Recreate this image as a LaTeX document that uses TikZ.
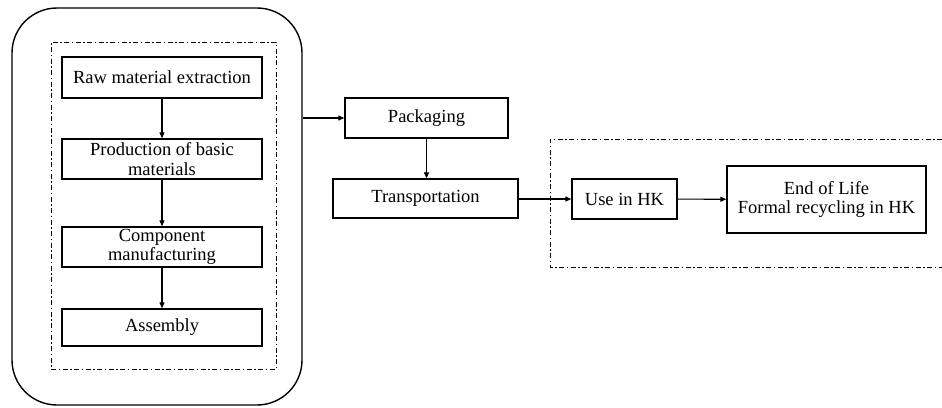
\documentclass[tikz,border=0pt]{standalone}
\usepackage{fontspec}
\setmainfont{Liberation Serif}
\usetikzlibrary{arrows.meta}
\begin{document}
\begin{tikzpicture}[x=1pt,y=-1pt,
  stagebox/.style={draw, line width=1.3pt, inner sep=0pt, align=center,
    font=\fontsize{18.5}{19.5}\selectfont},
  dashdot/.style={line width=0.9pt, dash pattern=on 5pt off 2.5pt on 1.5pt off 2.5pt},
  flow/.style={line width=1.1pt, -{Triangle[length=6pt,width=5pt]}}]
\useasboundingbox (0,0) rectangle (942,407);

% manufacturing stage: rounded frame and dash-dot group
\node[draw, line width=1.4pt, rounded corners=45pt, minimum width=290pt,
  minimum height=397pt, inner sep=0pt] (outer) at (157,206.5) {};
\node[draw, dashdot, minimum width=225pt, minimum height=327pt, inner sep=0pt]
  (inner) at (163.5,205.5) {};

\node[stagebox, minimum width=200pt, minimum height=41pt] (raw) at (162,77.5)
  {Raw material extraction};
\node[stagebox, minimum width=200pt, minimum height=40pt] (prod) at (162,159)
  {Production of basic\\materials};
\node[stagebox, minimum width=200pt, minimum height=40pt] (comp) at (162,247)
  {Component\\manufacturing};
\node[stagebox, minimum width=200pt, minimum height=37pt] (asm) at (162,327.5)
  {Assembly};

% distribution
\node[stagebox, minimum width=163pt, minimum height=40pt] (pack) at (426.5,118)
  {Packaging};
\node[stagebox, minimum width=185pt, minimum height=39pt] (trans) at (425.5,198.5)
  {Transportation};

% use phase and end of life, open dash-dot group
\draw[dashdot] (942,139) -- (550,139) -- (550,267) -- (942,267);
\node[stagebox, minimum width=105pt, minimum height=40pt] (use) at (624.5,199)
  {Use in HK};
\node[stagebox, minimum width=199pt, minimum height=67pt] (eol) at (826.5,199.5)
  {End of Life\\Formal recycling in HK};

% connectors
\draw[flow] (raw) -- (prod);
\draw[flow] (prod) -- (comp);
\draw[flow] (comp) -- (asm);
\draw[flow] (outer.east |- pack) -- (pack.west);
\draw[flow] (pack.south) -- (pack.south |- trans.north);
\draw[flow] (trans.east |- use) -- (use.west);
\draw[flow] (use) -- (eol);
\end{tikzpicture}
\end{document}
